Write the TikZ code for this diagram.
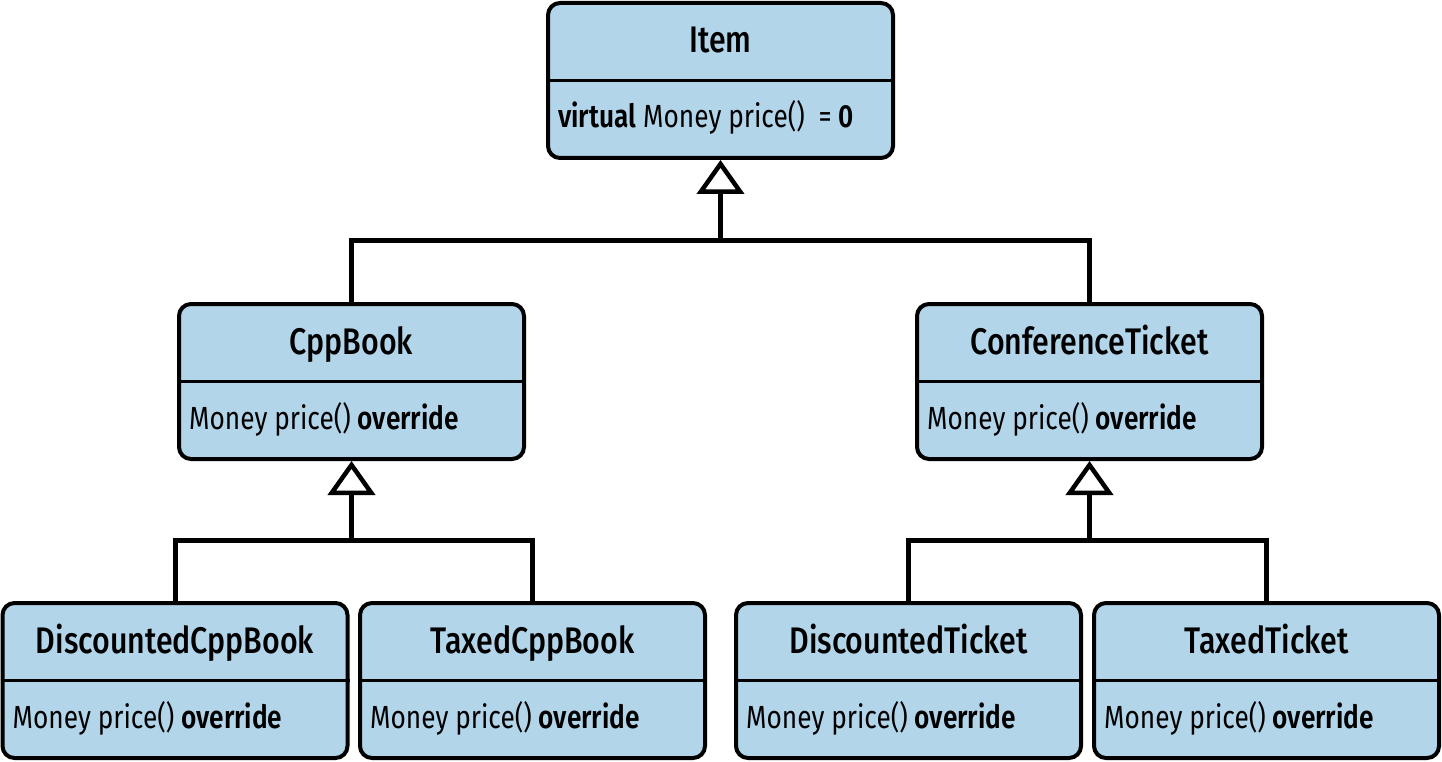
\documentclass[tikz,border=0pt]{standalone}
\usepackage{fontspec}
\setmainfont{Fira Sans}[FakeStretch=0.82, BoldFont=Fira Sans SemiBold]
\newfontfamily\titlefont{Fira Sans Medium}[FakeStretch=0.82]
\usetikzlibrary{arrows.meta,calc}
\definecolor{boxblue}{RGB}{178,213,234}
\tikzset{
  x=1pt,y=-1pt,
  classbox/.style={draw=black,line width=4pt,fill=boxblue,rounded corners=12pt,minimum width=345pt,minimum height=155pt,inner sep=0pt},
  title/.style={font=\titlefont\fontsize{37}{40}\selectfont,inner sep=0pt,anchor=base},
  body/.style={font=\fontsize{32}{36}\selectfont,inner sep=0pt,anchor=base west},
  conn/.style={line width=5pt},
  inherit/.style={conn,-{Triangle[width=47pt,length=34pt,fill=white,line width=4.5pt]}},
}
\newcommand{\classbox}[4]{%
  \node[classbox] (#1) at (#2) {};
  \draw[line width=3.5pt] (#1.west) -- (#1.east);
  \node[title] (#1-t) at ([yshift=-52pt]#1.north) {#3};
  \node[body] (#1-b) at ([xshift=12pt,yshift=-127pt]#1.north west) {#4};
}
\begin{document}
\begin{tikzpicture}
\useasboundingbox (0,0) rectangle (1442,762);
\classbox{item}{720.5,80.5}{Item}{\textbf{virtual} Money price()\ \ = \textbf{0}}
\classbox{cpp}{351.5,381.5}{CppBook}{Money price() \textbf{override}}
\classbox{ct}{1089.5,381.5}{ConferenceTicket}{Money price() \textbf{override}}
\classbox{dcb}{175,680.5}{DiscountedCppBook}{Money price() \textbf{override}}
\classbox{tcb}{532.5,680.5}{TaxedCppBook}{Money price() \textbf{override}}
\classbox{dt}{908.5,680.5}{DiscountedTicket}{Money price() \textbf{override}}
\classbox{tt}{1266.5,680.5}{TaxedTicket}{Money price() \textbf{override}}
\coordinate (j1) at (720.5,240);
\coordinate (j2) at (351.5,540);
\coordinate (j3) at (1089.5,540);
\draw[conn] (cpp.north) |- (j1) -| (ct.north);
\draw[inherit] (j1) -- (item.south);
\draw[conn] (dcb.north) |- (j2) -| (tcb.north);
\draw[inherit] (j2) -- (cpp.south);
\draw[conn] (dt.north) |- (j3) -| (tt.north);
\draw[inherit] (j3) -- (ct.south);
\end{tikzpicture}
\end{document}
